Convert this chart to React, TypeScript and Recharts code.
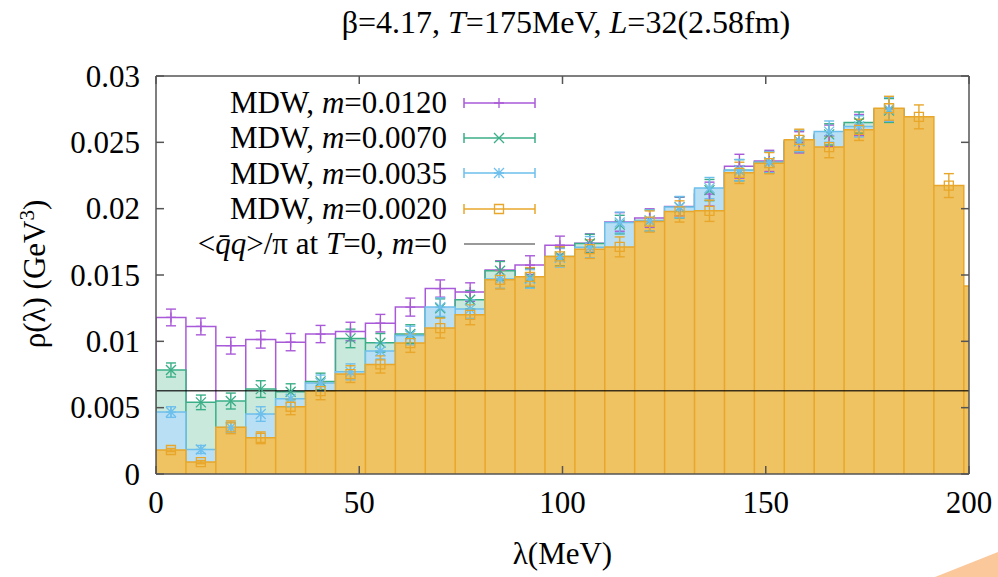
import React from "react";
import {
  Area,
  ComposedChart,
  ErrorBar,
  Label,
  Legend,
  ReferenceLine,
  Scatter,
  XAxis,
  YAxis,
} from "recharts";

// histogram bin width in MeV
const binWidth = 7.36;

const rho0120 = [
  0.0118, 0.01112, 0.00967, 0.01014, 0.00994, 0.01055, 0.01074, 0.01137, 0.01258, 0.01398,
  0.01371, 0.01537, 0.01575, 0.01725, 0.0174, 0.019, 0.01929, 0.02016, 0.0211, 0.0232,
  0.0236, 0.025, 0.0255, 0.0263, 0.0275,
];
const err0120 = [
  0.00063, 0.00063, 0.00063, 0.00065, 0.00065, 0.00065, 0.0007, 0.00066, 0.00068, 0.00065,
  0.0007, 0.0007, 0.0007, 0.00068, 0.0007, 0.0007, 0.0007, 0.0007, 0.0009, 0.0009,
  0.0008, 0.0008, 0.0008, 0.0008, 0.0009,
];

const rho0070 = [
  0.00784, 0.0054, 0.0055, 0.0064, 0.0062, 0.00698, 0.01022, 0.00989, 0.01055, 0.0125,
  0.01313, 0.01532, 0.0148, 0.0164, 0.01737, 0.0188, 0.0191, 0.0201, 0.0214, 0.0229,
  0.0235, 0.0251, 0.0256, 0.02649, 0.0274,
];
const err0070 = [
  0.00053, 0.00055, 0.0006, 0.00063, 0.0006, 0.00062, 0.0007, 0.0007, 0.0007, 0.0007,
  0.0007, 0.0007, 0.0007, 0.0007, 0.0007, 0.0007, 0.0008, 0.0008, 0.0008, 0.0008,
  0.0008, 0.0008, 0.0008, 0.0008, 0.0009,
];

const rho0035 = [
  0.00467, 0.00185, 0.0035, 0.00452, 0.00567, 0.00686, 0.0077, 0.00927, 0.01044, 0.01258,
  0.01243, 0.0147, 0.0147, 0.0163, 0.0171, 0.01896, 0.0191, 0.02012, 0.02155, 0.0229,
  0.0235, 0.0251, 0.02581, 0.0262, 0.0275,
];
const err0035 = [
  0.0004, 0.0003, 0.0004, 0.00055, 0.0006, 0.0006, 0.0006, 0.0006, 0.0007, 0.0007,
  0.0007, 0.0007, 0.0007, 0.0007, 0.0008, 0.00078, 0.0008, 0.0008, 0.0008, 0.0008,
  0.0008, 0.0008, 0.0008, 0.0008, 0.0009,
];

const rho0020 = [
  0.00181, 0.0009, 0.00352, 0.00273, 0.00507, 0.00625, 0.00753, 0.00826, 0.00987, 0.011,
  0.012, 0.01464, 0.01486, 0.0164, 0.01695, 0.01712, 0.01903, 0.01979, 0.01984, 0.0227,
  0.02343, 0.02519, 0.02464, 0.02594, 0.02757, 0.02692, 0.02174, 0.01417,
];
const err0020 = [
  0.00012, 0.00012, 0.00048, 0.00044, 0.0006, 0.00065, 0.00063, 0.00065, 0.0007, 0.00075,
  0.00075, 0.0007, 0.0007, 0.00073, 0.0007, 0.00075, 0.0008, 0.0008, 0.0008, 0.0008,
  0.0008, 0.0008, 0.0008, 0.0008, 0.0009, 0.0009, 0.0009, 0.0009,
];

// <qbar q>/pi at T=0, m=0
const condensateLevel = 0.00628;

const xTicks = [0, 50, 100, 150, 200];
const yTicks = [0, 0.005, 0.01, 0.015, 0.02, 0.025, 0.03];

type MarkerKind = "plus" | "cross" | "star" | "square";

type Series = {
  key: string;
  mass: string;
  values: number[];
  errors: number[];
  stroke: string;
  fill: string;
  marker: MarkerKind;
};

const series: Series[] = [
  { key: "m0120", mass: "0.0120", values: rho0120, errors: err0120, stroke: "#a95ad8", fill: "#ffffff", marker: "plus" },
  { key: "m0070", mass: "0.0070", values: rho0070, errors: err0070, stroke: "#3aae86", fill: "#c9e9dd", marker: "cross" },
  { key: "m0035", mass: "0.0035", values: rho0035, errors: err0035, stroke: "#6dbfec", fill: "#b9dff5", marker: "star" },
  { key: "m0020", mass: "0.0020", values: rho0020, errors: err0020, stroke: "#e8a72a", fill: "#efc262", marker: "square" },
];

const serif = "'Liberation Serif', 'DejaVu Serif', serif";
const frame = "#555";
const fontPx = 31;
const ticLen = 8;

// plot box, in page pixels
const plotTop = 76;
const plotRight = 969;

// gnuplot "boxes": every bin is a closed box down to zero
function boxOutline(values: number[]) {
  const pts: { x: number; y: number }[] = [];
  values.forEach((v, i) => {
    const lo = i * binWidth;
    const hi = (i + 1) * binWidth;
    pts.push({ x: lo, y: 0 }, { x: lo, y: v }, { x: hi, y: v }, { x: hi, y: 0 });
  });
  return pts;
}

function binPoints(values: number[], errors: number[]) {
  return values
    .map((v, i) => ({ x: (i + 0.5) * binWidth, y: v, err: errors[i] }))
    .filter((p) => p.x <= 200);
}

function markerPath(kind: MarkerKind, cx: number, cy: number) {
  const s = 5;
  const plus = `M${cx - s},${cy}H${cx + s}M${cx},${cy - s}V${cy + s}`;
  const cross = `M${cx - s},${cy - s}L${cx + s},${cy + s}M${cx - s},${cy + s}L${cx + s},${cy - s}`;
  if (kind === "plus") return plus;
  if (kind === "cross") return cross;
  if (kind === "star") return plus + cross;
  return `M${cx - 4.5},${cy - 4.5}h9v9h-9z`;
}

function Marker({ cx, cy, kind, color }: { cx?: number; cy?: number; kind: MarkerKind; color: string }) {
  if (cx == null || cy == null) return null;
  return <path d={markerPath(kind, cx, cy)} stroke={color} strokeWidth={1.3} fill="none" />;
}

// gnuplot puts its tics inside the border (mirrored on top and right),
// so the tick renderers draw their own short lines
const bottomMargin = 25;
const leftMargin = 16;

function BottomTick(p: any) {
  const axisY = p.y - bottomMargin;
  return (
    <g>
      <line x1={p.x} y1={axisY} x2={p.x} y2={axisY - ticLen} stroke={frame} strokeWidth={1.5} />
      <line x1={p.x} y1={plotTop} x2={p.x} y2={plotTop + ticLen} stroke={frame} strokeWidth={1.5} />
      <text x={p.x} y={axisY + 39} textAnchor="middle" fontFamily={serif} fontSize={fontPx} fill="#000">
        {p.payload.value}
      </text>
    </g>
  );
}

function LeftTick(p: any) {
  const axisX = p.x + leftMargin;
  return (
    <g>
      <line x1={axisX} y1={p.y} x2={axisX + ticLen} y2={p.y} stroke={frame} strokeWidth={1.5} />
      <line x1={plotRight} y1={p.y} x2={plotRight - ticLen} y2={p.y} stroke={frame} strokeWidth={1.5} />
      <text x={p.x} y={p.y} dy={0.34 * fontPx} textAnchor="end" fontFamily={serif} fontSize={fontPx} fill="#000">
        {String(p.payload.value)}
      </text>
    </g>
  );
}

function LegendSample({ s }: { s?: Series }) {
  const color = s ? s.stroke : "#777";
  return (
    <svg width={74} height={20} style={{ display: "block" }}>
      <line x1={1} y1={10} x2={72} y2={10} stroke={color} strokeWidth={1.5} />
      {s && (
        <>
          <line x1={1} y1={5} x2={1} y2={15} stroke={color} strokeWidth={1.5} />
          <line x1={72} y1={5} x2={72} y2={15} stroke={color} strokeWidth={1.5} />
          <path d={markerPath(s.marker, 36, 10)} stroke={color} strokeWidth={1.3} fill="none" />
        </>
      )}
    </svg>
  );
}

function LegendRow({ children, s }: { children: React.ReactNode; s?: Series }) {
  return (
    <div style={{ display: "flex", alignItems: "center", height: 35.3 }}>
      <span style={{ width: 307, textAlign: "right", whiteSpace: "nowrap" }}>{children}</span>
      <span style={{ marginLeft: 16 }}>
        <LegendSample s={s} />
      </span>
    </div>
  );
}

function KeyBox() {
  return (
    <div style={{ fontFamily: serif, fontSize: fontPx, color: "#000", lineHeight: "35px" }}>
      {series.map((s) => (
        <LegendRow key={s.key} s={s}>
          MDW, <i>m</i>={s.mass}
        </LegendRow>
      ))}
      <LegendRow>
        {"<"}
        <i>{"q\u0304q"}</i>
        {">/\u03c0 at "}
        <i>T</i>=0, <i>m</i>=0
      </LegendRow>
    </div>
  );
}

export default function App() {
  const axisLine = { stroke: frame, strokeWidth: 1.5 };
  return (
    <div style={{ position: "absolute", left: 0, top: 0, width: 998, height: 577, background: "#fff", overflow: "hidden" }}>
      <ComposedChart width={998} height={577} margin={{ top: plotTop, right: 998 - plotRight, bottom: 43, left: 0 }}>
        {series.flatMap((s) => [
          <Area
            key={`${s.key}-box`}
            data={boxOutline(s.values)}
            dataKey="y"
            type="linear"
            stroke={s.stroke}
            strokeWidth={1.5}
            fill={s.fill}
            fillOpacity={1}
            dot={false}
            activeDot={false}
            isAnimationActive={false}
          />,
          <Scatter
            key={`${s.key}-pts`}
            data={binPoints(s.values, s.errors)}
            dataKey="y"
            isAnimationActive={false}
            shape={(p: any) => <Marker cx={p.cx} cy={p.cy} kind={s.marker} color={s.stroke} />}
          >
            <ErrorBar dataKey="err" direction="y" width={5} stroke={s.stroke} strokeWidth={1.4} isAnimationActive={false} />
          </Scatter>,
        ])}
        <ReferenceLine y={condensateLevel} stroke="#000" strokeOpacity={0.75} strokeWidth={1.5} />
        {/* top and right sides of the border */}
        <ReferenceLine y={0.03} stroke={frame} strokeWidth={1.5} />
        <ReferenceLine x={200} stroke={frame} strokeWidth={1.5} />
        <XAxis
          dataKey="x"
          type="number"
          domain={[0, 200]}
          ticks={xTicks}
          interval={0}
          allowDataOverflow
          height={60}
          tickSize={0}
          tickMargin={bottomMargin}
          tick={BottomTick}
          tickLine={false}
          axisLine={axisLine}
        >
          <Label
            content={({ viewBox }: any) => (
              <text
                x={viewBox.x + viewBox.width / 2}
                y={564}
                textAnchor="middle"
                fontFamily={serif}
                fontSize={fontPx}
                fill="#000"
              >
                {"\u03bb(MeV)"}
              </text>
            )}
          />
        </XAxis>
        <YAxis
          type="number"
          domain={[0, 0.03]}
          ticks={yTicks}
          interval={0}
          width={156}
          tickSize={0}
          tickMargin={leftMargin}
          tick={LeftTick}
          tickLine={false}
          axisLine={axisLine}
        >
          <Label
            content={() => (
              <text
                x={45}
                y={274}
                textAnchor="middle"
                fontFamily={serif}
                fontSize={fontPx}
                fill="#000"
                transform="rotate(-90 45 274)"
              >
                {"\u03c1(\u03bb) (GeV"}
                <tspan dy={-11} fontSize={21}>
                  3
                </tspan>
                <tspan dy={11}>)</tspan>
              </text>
            )}
          />
        </YAxis>
        <Legend
          layout="vertical"
          align="center"
          verticalAlign="middle"
          wrapperStyle={{ left: 140, top: 85, width: 420 }}
          content={() => <KeyBox />}
        />
      </ComposedChart>
      <svg width={998} height={577} style={{ position: "absolute", left: 0, top: 0, pointerEvents: "none" }}>
        <text x={566} y={33} textAnchor="middle" fontFamily={serif} fontSize={32} fill="#000">
          {"\u03b2=4.17, "}
          <tspan fontStyle="italic">T</tspan>
          {"=175MeV, "}
          <tspan fontStyle="italic">L</tspan>
          {"=32(2.58fm)"}
        </text>
        <polygon points="935,577 998,552 998,577" fill="#fbc89c" />
      </svg>
    </div>
  );
}
